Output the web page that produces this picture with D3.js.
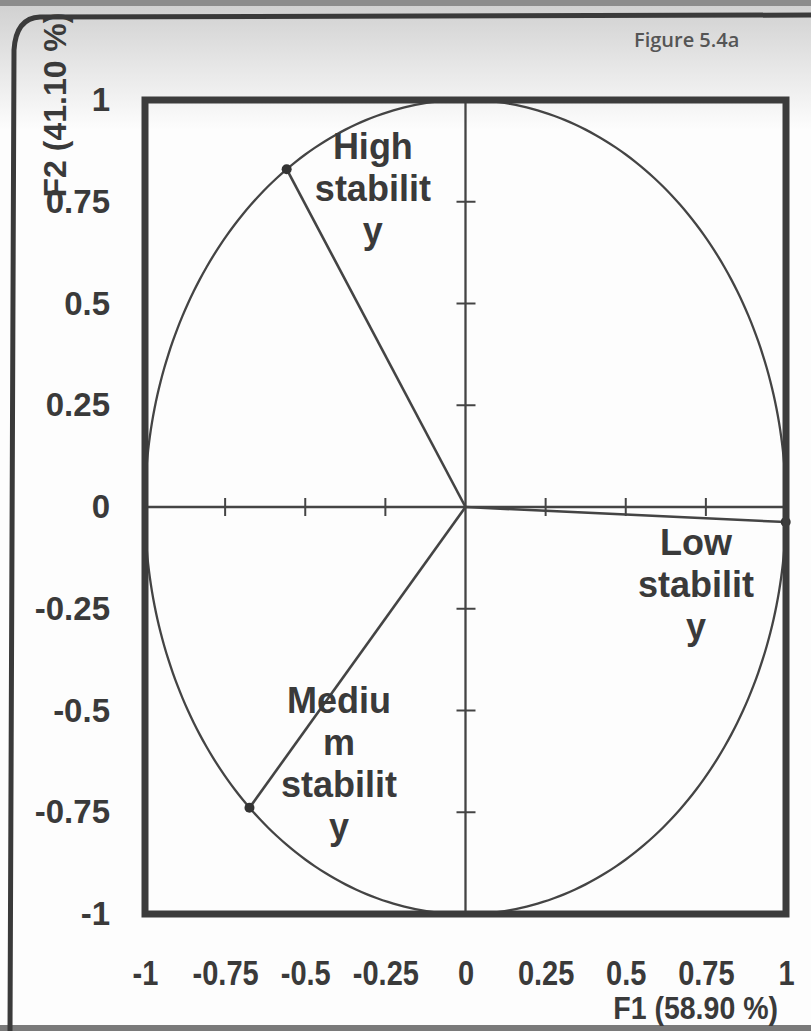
<!DOCTYPE html>
<html>
<head>
<meta charset="utf-8">
<script src="https://cdn.jsdelivr.net/npm/d3@7"></script>
<style>
  html, body { margin: 0; padding: 0; background: #fdfdfd; }
  svg { display: block; }
  text { font-family: "Liberation Sans", Arial, sans-serif; font-weight: bold; fill: #3a3a3a; }
</style>
</head>
<body>
<script>
// tick values on both axes
const xTicks = [-1, -0.75, -0.5, -0.25, 0, 0.25, 0.5, 0.75, 1];
const yTicks = [1, 0.75, 0.5, 0.25, 0, -0.25, -0.5, -0.75, -1];
const innerTicks = [-0.75, -0.5, -0.25, 0.25, 0.5, 0.75];

// variables and their loadings on F1 / F2
const variables = ["High stability", "Low stability", "Medium stability"];
const f1 = [-0.558, 0.999, -0.674];
const f2 = [0.830, -0.037, -0.739];

// label text as it wraps in the figure, and where it sits (data units)
const labelLines = [["High", "stabilit", "y"], ["Low", "stabilit", "y"], ["Mediu", "m", "stabilit", "y"]];
const labelX = [-0.289, 0.719, -0.395];
const labelY = [0.856, -0.118, -0.506];

const xTitle = "F1 (58.90 %)";
const yTitle = "F2 (41.10 %)";
const caption = "Figure 5.4a";

const W = 811, H = 1031;
const svg = d3.select("body").append("svg")
  .attr("width", W)
  .attr("height", H);

// page shading, like a photographed sheet
const defs = svg.append("defs");
const grad = defs.append("linearGradient").attr("id", "shade")
  .attr("x1", 0).attr("y1", 0).attr("x2", 0).attr("y2", 1);
grad.append("stop").attr("offset", "0%").attr("stop-color", "#cfcfcf");
grad.append("stop").attr("offset", "100%").attr("stop-color", "#fdfdfd");
svg.append("rect").attr("width", W).attr("height", H).attr("fill", "#fdfdfd");
svg.append("rect").attr("width", W).attr("height", 130).attr("fill", "url(#shade)");
svg.append("rect").attr("width", W).attr("height", 6).attr("fill", "#8c8c8c");
svg.append("rect").attr("y", H - 6).attr("width", W).attr("height", 6).attr("fill", "#7a7a7a");
svg.append("path")
  .attr("d", "M811,15 L40,17 Q16,18 14,50 L10,1031")
  .attr("fill", "none").attr("stroke", "#3a3a3a").attr("stroke-width", 5);

// scales
const x = d3.scaleLinear().domain([-1, 1]).range([145, 786]);
const y = d3.scaleLinear().domain([-1, 1]).range([914, 100]);

const ink = "#444";

// unit circle
const circle = d3.range(0, 361, 2).map(a => [Math.cos(a * Math.PI / 180), Math.sin(a * Math.PI / 180)]);
svg.append("path")
  .datum(circle)
  .attr("d", d3.line().x(d => x(d[0])).y(d => y(d[1])).curve(d3.curveCardinalClosed))
  .attr("fill", "none").attr("stroke", ink).attr("stroke-width", 2.3);

// zero axes with crossing ticks
svg.append("line").attr("x1", x(-1)).attr("x2", x(1)).attr("y1", y(0)).attr("y2", y(0))
  .attr("stroke", ink).attr("stroke-width", 2.3);
svg.append("line").attr("x1", x(0)).attr("x2", x(0)).attr("y1", y(-1)).attr("y2", y(1))
  .attr("stroke", ink).attr("stroke-width", 2.3);

svg.selectAll(".xt").data(innerTicks).enter().append("line")
  .attr("x1", d => x(d)).attr("x2", d => x(d))
  .attr("y1", y(0) - 9).attr("y2", y(0) + 9)
  .attr("stroke", ink).attr("stroke-width", 2);
svg.selectAll(".yt").data(innerTicks).enter().append("line")
  .attr("x1", x(0) - 9).attr("x2", x(0) + 10)
  .attr("y1", d => y(d)).attr("y2", d => y(d))
  .attr("stroke", ink).attr("stroke-width", 2);

// vectors from origin
const idx = d3.range(variables.length);
svg.selectAll(".vec").data(idx).enter().append("line")
  .attr("x1", x(0)).attr("y1", y(0))
  .attr("x2", i => x(f1[i])).attr("y2", i => y(f2[i]))
  .attr("stroke", ink).attr("stroke-width", 2.6);
svg.selectAll(".dot").data(idx).enter().append("circle")
  .attr("cx", i => x(f1[i])).attr("cy", i => y(f2[i]))
  .attr("r", 5).attr("fill", "#333");

// frame
svg.append("rect")
  .attr("x", x(-1)).attr("y", y(1))
  .attr("width", x(1) - x(-1)).attr("height", y(-1) - y(1))
  .attr("fill", "none").attr("stroke", "#3c3c3c").attr("stroke-width", 7);

// tick labels via axes, no tick lines
const yAxis = svg.append("g")
  .attr("transform", `translate(${x(-1)},0)`)
  .call(d3.axisLeft(y).tickValues(yTicks).tickSize(0).tickPadding(35).tickFormat(d => String(d)));
const xAxis = svg.append("g")
  .attr("transform", `translate(0,${y(-1)})`)
  .call(d3.axisBottom(x).tickValues(xTicks).tickSize(0).tickPadding(44).tickFormat(d => String(d)));
[yAxis, xAxis].forEach(g => {
  g.attr("font-family", null);
  g.select(".domain").remove();
  g.selectAll("text").attr("font-size", 33);
});
// the bottom labels are narrow in the figure
xAxis.selectAll("text").attr("transform", "scale(0.88,1.05)");

// variable labels
idx.forEach(i => {
  const t = svg.append("text")
    .attr("text-anchor", "middle")
    .attr("font-size", 36);
  labelLines[i].forEach((s, k) => {
    t.append("tspan")
      .attr("x", x(labelX[i]))
      .attr("y", y(labelY[i]) + k * 42)
      .text(s);
  });
});

// axis titles
svg.append("text")
  .attr("x", 778).attr("y", 1019)
  .attr("text-anchor", "end")
  .attr("font-size", 31)
  .attr("transform", "translate(778,0) scale(0.92,1) translate(-778,0)")
  .text(xTitle);
svg.append("text")
  .attr("transform", "translate(66,105) rotate(-90)")
  .attr("text-anchor", "middle")
  .attr("font-size", 32)
  .text(yTitle);

svg.append("text")
  .attr("x", 634).attr("y", 47)
  .attr("font-size", 20)
  .style("font-family", "'Open Sans', sans-serif")
  .style("font-weight", "600")
  .style("fill", "#555")
  .text(caption);
</script>
</body>
</html>
